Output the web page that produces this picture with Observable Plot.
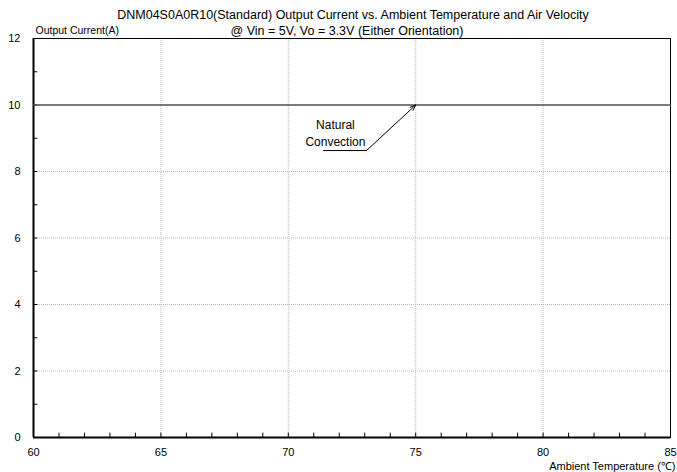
<!DOCTYPE html>
<html>
<head>
<meta charset="utf-8">
<script src="https://cdn.jsdelivr.net/npm/d3@7"></script>
<script src="https://cdn.jsdelivr.net/npm/@observablehq/plot@0.6"></script>
<style>
  html, body { margin: 0; padding: 0; background: #fff; }
  svg { font-family: "Liberation Sans", Arial, sans-serif; }
</style>
</head>
<body>
<div id="chart"></div>
<script>
// ---- data ----
const titleLine1 = "DNM04S0A0R10(Standard) Output Current vs. Ambient Temperature and Air Velocity";
const titleLine2 = "@ Vin = 5V, Vo = 3.3V (Either Orientation)";
const yLabel = "Output Current(A)";
const xLabel = "Ambient Temperature (\u2103)";

const xTicks = [60, 65, 70, 75, 80, 85];
const yTicks = [0, 2, 4, 6, 8, 10, 12];
const xMinor = [61,62,63,64,65,66,67,68,69,70,71,72,73,74,75,76,77,78,79,80,81,82,83,84];
const yMinor = [1,2,3,4,5,6,7,8,9,10,11];

const temps = [60, 85];
const current = [10, 10];

const annotationLines = ["Natural", "Convection"];
const annotationLineY = [9.38, 8.87];
const annotationX = 71.85;
const arrowFrom = [73.07, 8.63];
const arrowTo = [75, 10];
const underlineX = [71.38, 73.07];

// ---- chart ----
const series = temps.map((t, i) => ({t, c: current[i]}));
const labelData = annotationLines.map((s, i) => ({s, y: annotationLineY[i]}));

const chart = Plot.plot({
  width: 677,
  height: 472,
  marginTop: 38,
  marginLeft: 33,
  marginRight: 7,
  marginBottom: 35,
  style: {fontFamily: "'Liberation Sans', Arial, sans-serif", fontSize: "11px", color: "#000", background: "#fff"},
  x: {domain: [60, 85], ticks: xTicks},
  y: {domain: [0, 12], ticks: yTicks},
  marks: [
    // grid
    Plot.ruleX(xTicks.filter(d => d > 60 && d < 85), {stroke: "#bbb", strokeDasharray: "1,1", strokeWidth: 1}),
    Plot.ruleY(yTicks.filter(d => d > 0 && d < 12), {stroke: "#bbb", strokeDasharray: "1,1", strokeWidth: 1}),
    Plot.frame({stroke: "#000", strokeWidth: 1}),
    // minor ticks
    Plot.ruleX(xMinor, {y1: 0, y2: 0.13, stroke: "#000", strokeWidth: 1}),
    Plot.ruleY(yMinor, {x1: 60, x2: 60.17, stroke: "#000", strokeWidth: 1}),
    // axes
    Plot.axisX({ticks: xTicks, tickSize: 0, tickPadding: 11, tickFormat: d => d, fontSize: 11, label: null}),
    Plot.axisY({ticks: yTicks, tickSize: 0, tickPadding: 13, tickFormat: d => d, fontSize: 11, label: null}),
    Plot.ruleY([0], {stroke: "#000", strokeWidth: 2}),
    Plot.ruleX([60], {stroke: "#000", strokeWidth: 2}),
    // series
    Plot.line(series, {x: "t", y: "c", stroke: "#555", strokeWidth: 1.6}),
    // annotation
    Plot.text(labelData, {x: () => annotationX, y: "y", text: "s", fontSize: 12, fill: "#000"}),
    Plot.line(underlineX.map(x => ({x, y: arrowFrom[1]})), {x: "x", y: "y", stroke: "#000", strokeWidth: 1}),
    Plot.arrow([{x1: arrowFrom[0], y1: arrowFrom[1], x2: arrowTo[0], y2: arrowTo[1]}],
      {x1: "x1", y1: "y1", x2: "x2", y2: "y2", stroke: "#000", strokeWidth: 1, headLength: 9, headAngle: 40}),
    // titles
    Plot.text([titleLine1], {frameAnchor: "top", dy: -28, dx: 1, fontSize: 12.5, fill: "#000"}),
    Plot.text([titleLine2], {frameAnchor: "top", dy: -12, dx: -5, fontSize: 12.5, fill: "#000"}),
    Plot.text([yLabel], {frameAnchor: "top-left", dy: -12, dx: 2, textAnchor: "start", fontSize: 10.5, fill: "#000"}),
    Plot.text([xLabel], {frameAnchor: "bottom-right", dy: 32, dx: 5, textAnchor: "end", fontSize: 11, fill: "#000"})
  ]
});
document.getElementById("chart").appendChild(chart);
</script>
</body>
</html>
